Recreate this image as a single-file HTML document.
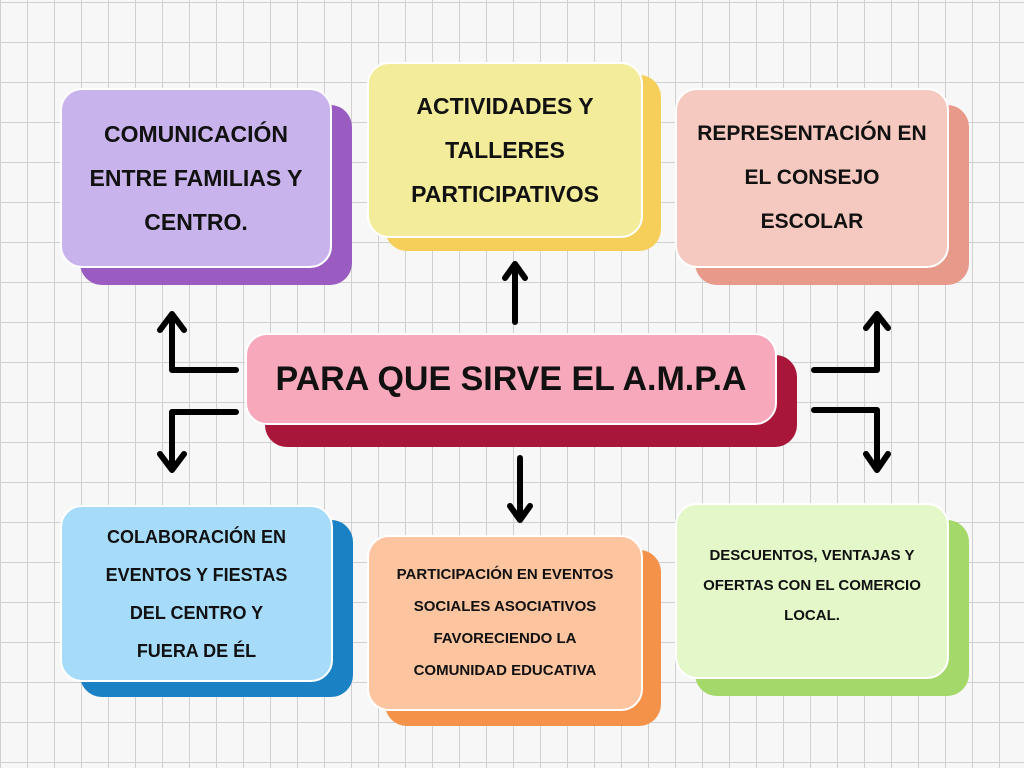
<!DOCTYPE html>
<html><head><meta charset="utf-8"><style>
body{margin:0;width:1024px;height:768px;overflow:hidden;background:#f7f7f7;
background-image:linear-gradient(#d0d0d0 1px,transparent 1px),linear-gradient(90deg,#d0d0d0 1px,transparent 1px);
background-size:27px 40px;background-position:0 2px;font-family:"Liberation Sans",sans-serif;position:relative}
.b{position:absolute;border-radius:22px}
.t{position:absolute;display:flex;align-items:center;justify-content:center;text-align:center;font-weight:bold;text-transform:uppercase;color:#111;border-radius:22px;border:2px solid #fff;box-sizing:border-box}
</style></head><body>
<div class="b" style="left:80px;top:105px;width:272px;height:180px;background:#9a5cc0"></div>
<div class="t" style="left:60px;top:88px;width:272px;height:180px;background:#c9b3ec;font-size:23px;line-height:44px">Comunicación<br>entre familias y<br>centro.</div>

<div class="b" style="left:385px;top:75px;width:276px;height:176px;background:#f5cf5a"></div>
<div class="t" style="left:367px;top:62px;width:276px;height:176px;background:#f3ec9a;font-size:23px;line-height:44px">Actividades y<br>talleres<br>participativos</div>

<div class="b" style="left:695px;top:105px;width:274px;height:180px;background:#e89a8a"></div>
<div class="t" style="left:675px;top:88px;width:274px;height:180px;background:#f5c9bf;font-size:21px;line-height:44px">Representación en<br>el consejo<br>escolar</div>

<div class="b" style="left:265px;top:355px;width:532px;height:92px;background:#a8173a"></div>
<div class="t" style="left:245px;top:333px;width:532px;height:92px;background:#f8a8bb;font-size:34px">Para que sirve el A.M.P.A</div>

<div class="b" style="left:80px;top:520px;width:273px;height:177px;background:#1a82c4"></div>
<div class="t" style="left:60px;top:505px;width:273px;height:177px;background:#a6dcfa;font-size:18px;line-height:38px">Colaboración en<br>eventos y fiestas<br>del centro y<br>fuera de él</div>

<div class="b" style="left:385px;top:550px;width:276px;height:176px;background:#f5924a"></div>
<div class="t" style="left:367px;top:535px;width:276px;height:176px;background:#fdc4a0;font-size:15px;line-height:32px">Participación en eventos<br>sociales asociativos<br>favoreciendo la<br>comunidad educativa</div>

<div class="b" style="left:695px;top:520px;width:274px;height:176px;background:#a5d86a"></div>
<div class="t" style="left:675px;top:503px;width:274px;height:176px;background:#e3f7c8;font-size:15px;line-height:30px;align-items:flex-start;padding-top:36px">Descuentos, ventajas y<br>ofertas con el comercio<br>local.</div>

<svg style="position:absolute;left:0;top:0" width="1024" height="768" fill="none" stroke="#000" stroke-width="6" stroke-linecap="round" stroke-linejoin="round">
<path d="M236 370 H172 V318 M160 330 L172 314 L184 330"/>
<path d="M236 412 H172 V466 M160 454 L172 470 L184 454"/>
<path d="M515 322 V266 M505 278 L515 264 L525 278"/>
<path d="M520 458 V518 M510 506 L520 520 L530 506"/>
<path d="M814 370 H877 V316 M866 328 L877 314 L888 328"/>
<path d="M814 410 H877 V466 M866 454 L877 470 L888 454"/>
</svg>
</body></html>
